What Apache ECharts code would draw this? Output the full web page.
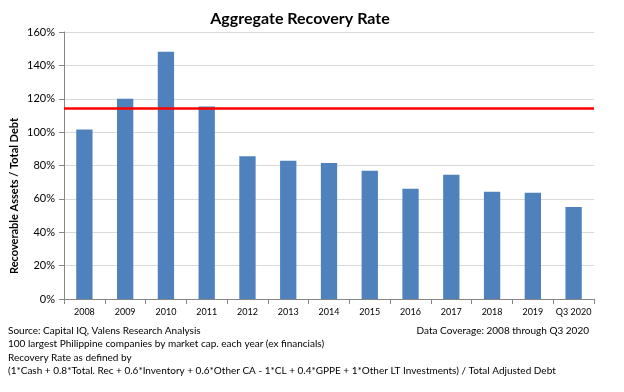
<!DOCTYPE html>
<html><head><meta charset="utf-8">
<script src="https://cdn.jsdelivr.net/npm/echarts@6/dist/echarts.min.js"></script>
<style>html,body{margin:0;padding:0;background:#fff}#c{width:624px;height:392px}</style>
</head><body><div id="c"></div>
<script>
var categories = ['2008','2009','2010','2011','2012','2013','2014','2015','2016','2017','2018','2019','Q3 2020'];
var recoveryRate = [101.5, 120, 148.2, 115.3, 85.5, 82.8, 81.5, 76.8, 66, 74.5, 64.2, 63.6, 55.2];
var thresholdValue = 114.4;
var yTicks = [0, 20, 40, 60, 80, 100, 120, 140, 160];
var titleText = 'Aggregate Recovery Rate';
var yAxisTitle = 'Recoverable Assets / Total Debt';
var footLines = [
  'Source: Capital IQ, Valens Research Analysis',
  '100 largest Philippine companies by market cap. each year (ex financials)',
  'Recovery Rate as defined by',
  '(1*Cash + 0.8*Total. Rec + 0.6*Inventory + 0.6*Other CA - 1*CL + 0.4*GPPE + 1*Other LT Investments) / Total Adjusted Debt'
];
var coverageText = 'Data Coverage: 2008 through Q3 2020';

var FONT = 'Lato, "Open Sans", sans-serif';
var chart = echarts.init(document.getElementById('c'));
var graphics = footLines.map(function(t, i){
  return {type:'text', left:8, top:326 + i*13.2, style:{text:t, font:'10px ' + FONT, fill:'#000'}};
});
graphics.push({type:'text', right:35, top:326, style:{text:coverageText, font:'10px ' + FONT, fill:'#000'}});
graphics.push({type:'text', x:300, y:19, style:{text:titleText, font:'bold 16px ' + FONT, fill:'#000', align:'center', verticalAlign:'middle'}});
graphics.push({type:'text', x:14, y:196, rotation:Math.PI/2, style:{text:yAxisTitle, font:'bold 11px ' + FONT, fill:'#000', align:'center', verticalAlign:'middle'}});
chart.setOption({
  animation:false,
  grid:{left:64, right:30, top:32, bottom:93},
  xAxis:{type:'category', data:categories,
    axisLine:{lineStyle:{color:'#868686'}},
    axisTick:{show:true, alignWithLabel:false, length:5, lineStyle:{color:'#868686'}},
    axisLabel:{fontFamily:FONT, fontSize:9, color:'#000', margin:9, interval:0}},
  yAxis:{type:'value', min:yTicks[0], max:yTicks[yTicks.length-1], interval:20,
    axisLine:{show:true, lineStyle:{color:'#868686'}},
    axisTick:{show:true, length:5, lineStyle:{color:'#868686'}},
    axisLabel:{fontFamily:FONT, fontSize:11, color:'#000', margin:9, formatter:'{value}%'},
    splitLine:{lineStyle:{color:'#d9d9d9', width:1}}},
  series:[{type:'bar', data:recoveryRate, barWidth:'40%', itemStyle:{color:'#4f81bd'},
    markLine:{symbol:'none', silent:true, label:{show:false},
      lineStyle:{color:'#ff0000', width:2.5, type:'solid'},
      data:[{yAxis:thresholdValue}]}}],
  graphic:graphics
});
</script></body></html>
